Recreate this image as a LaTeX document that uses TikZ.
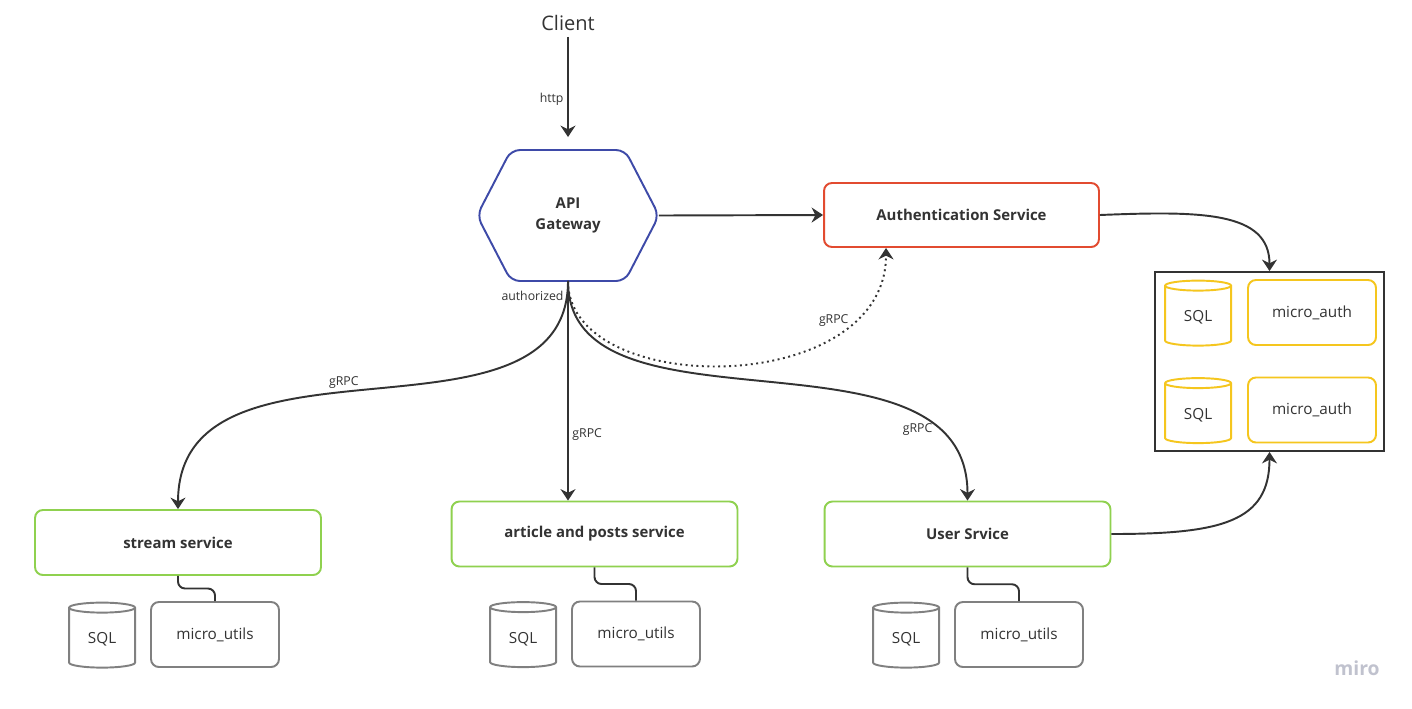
\documentclass[tikz,border=0pt]{standalone}
\usepackage{fontspec}
\setmainfont{Open Sans}
\definecolor{miroBlue}{RGB}{62, 74, 168}
\definecolor{miroRed}{RGB}{226, 75, 48}
\definecolor{miroGreen}{RGB}{143, 209, 79}
\definecolor{miroYellow}{RGB}{245, 198, 30}
\definecolor{miroGray}{RGB}{128, 128, 128}
\definecolor{ink}{RGB}{51, 51, 51}
\definecolor{logoGray}{RGB}{192, 194, 206}
\usepackage{tikz}
\usetikzlibrary{positioning, calc, shapes.geometric, arrows.meta}

\begin{document}
\begin{tikzpicture}[
    x=0.02cm, y=-0.02cm, text=ink,
    gate/.style={rectangle, outer sep=0pt, minimum width=3.64cm, minimum height=2.62cm,
                 align=center, font=\fontsize{8.5}{12}\selectfont\bfseries},
    gateline/.style={draw=miroBlue, line width=1.1pt, rounded corners=5pt},
    svc/.style={rectangle, rounded corners=4.5pt, draw=miroGreen, line width=1.1pt,
                minimum width=5.72cm, minimum height=1.3cm, align=center,
                font=\fontsize{8.5}{10}\selectfont\bfseries},
    util/.style={rectangle, rounded corners=4.5pt, draw=miroGray, line width=1.1pt,
                 minimum width=2.56cm, minimum height=1.3cm, align=center,
                 font=\fontsize{8.7}{10}\selectfont},
    db/.style={cylinder, shape border rotate=90, aspect=0.25, draw=miroGray, line width=1.1pt,
               minimum width=1.32cm, minimum height=1.3cm, font=\fontsize{8.7}{10}\selectfont},
    dbgroup/.style={rectangle, draw=ink, line width=1.1pt, minimum width=4.58cm,
                    minimum height=3.58cm},
    lbl/.style={font=\fontsize{7}{8}\selectfont, inner sep=2pt},
    arrow/.style={-{Stealth[length=6.5pt, width=8.5pt]}, line width=1.1pt, ink},
    link/.style={line width=1.1pt, ink, rounded corners=4pt},
  ]
    \fill[white] (0,0) rectangle (1412,708);
    \useasboundingbox (0,0) rectangle (1412,708);

    % client and gateway
    \node[font=\fontsize{11.4}{13}\selectfont] (client) at (568,23) {Client};
    \node[gate] (gw) at (568,215.5) {API\\Gateway};
    \draw[gateline] (gw.west) -- ([xshift=0.68cm]gw.north west) -- ([xshift=-0.68cm]gw.north east)
        -- (gw.east) -- ([xshift=-0.68cm]gw.south east) -- ([xshift=0.68cm]gw.south west) -- cycle;

    % auth service and its storage
    \node[svc, draw=miroRed, minimum width=5.5cm, minimum height=1.28cm] (auth) at (961.5,215) {Authentication Service};
    \node[dbgroup] (dbbox) at (1269.5,361.5) {};
    \node[util, draw=miroYellow] (authA) at (1312,312.5) {micro\_auth};
    \node[db, draw=miroYellow, left=0.3cm of authA, yshift=-0.1cm] (sqlA) {SQL};
    \node[util, draw=miroYellow] (authB) at (1312,410) {micro\_auth};
    \node[db, draw=miroYellow, left=0.3cm of authB, yshift=-0.1cm] (sqlB) {SQL};

    % services
    \node[svc] (stream) at (178,542.5) {stream service};
    \node[svc] (article) at (594.5,534) {article and posts service};
    \node[svc] (user) at (967.5,534) {User Srvice};

    % utils under each service
    \node[util] (util1) at (215,634.5) {micro\_utils};
    \node[db, left=0.28cm of util1, yshift=-0.1cm] (sql1) {SQL};
    \node[util] (util2) at (636,634) {micro\_utils};
    \node[db, left=0.28cm of util2, yshift=-0.1cm] (sql2) {SQL};
    \node[util] (util3) at (1019,634.5) {micro\_utils};
    \node[db, left=0.28cm of util3, yshift=-0.1cm] (sql3) {SQL};

    \node[font=\fontsize{11}{13}\selectfont\bfseries, text=logoGray] (logo) at (1357,668) {miro};

    \draw[arrow] (client.south) -- node[lbl, left, pos=0.62] {http} ([yshift=0.26cm]gw.north);
    \draw[arrow] (gw.east) -- (auth.west);
    \draw[arrow] (gw.south) -- node[lbl, left, pos=0.07] {authorized}
        node[lbl, right, pos=0.7] {gRPC} (gw.south |- article.north);
    \draw[arrow] (gw.south) .. controls +(0,180) and +(0,-194) ..
        node[lbl, above, pos=0.55] {gRPC} (stream.north);
    \draw[arrow] (gw.south) .. controls +(0,165) and +(0,-187) ..
        node[lbl, left, pos=0.83] {gRPC} (user.north);
    \draw[arrow, dotted] (gw.south) .. controls +(0,118) and +(0,151) ..
        node[lbl, left, pos=0.8] {gRPC} ([xshift=1.26cm]auth.south west);
    \draw[arrow] (auth.east) .. controls +(100,-4) and +(0,-60) .. (dbbox.north);
    \draw[arrow] (user.east) .. controls +(110,0) and +(0,70) .. (dbbox.south);

    \draw[link] (stream.south) |- ($(stream.south)!0.5!(util1.north)$) -| (util1.north);
    \draw[link] (article.south) |- ($(article.south)!0.5!(util2.north)$) -| (util2.north);
    \draw[link] (user.south) |- ($(user.south)!0.5!(util3.north)$) -| (util3.north);
  \end{tikzpicture}
\end{document}
